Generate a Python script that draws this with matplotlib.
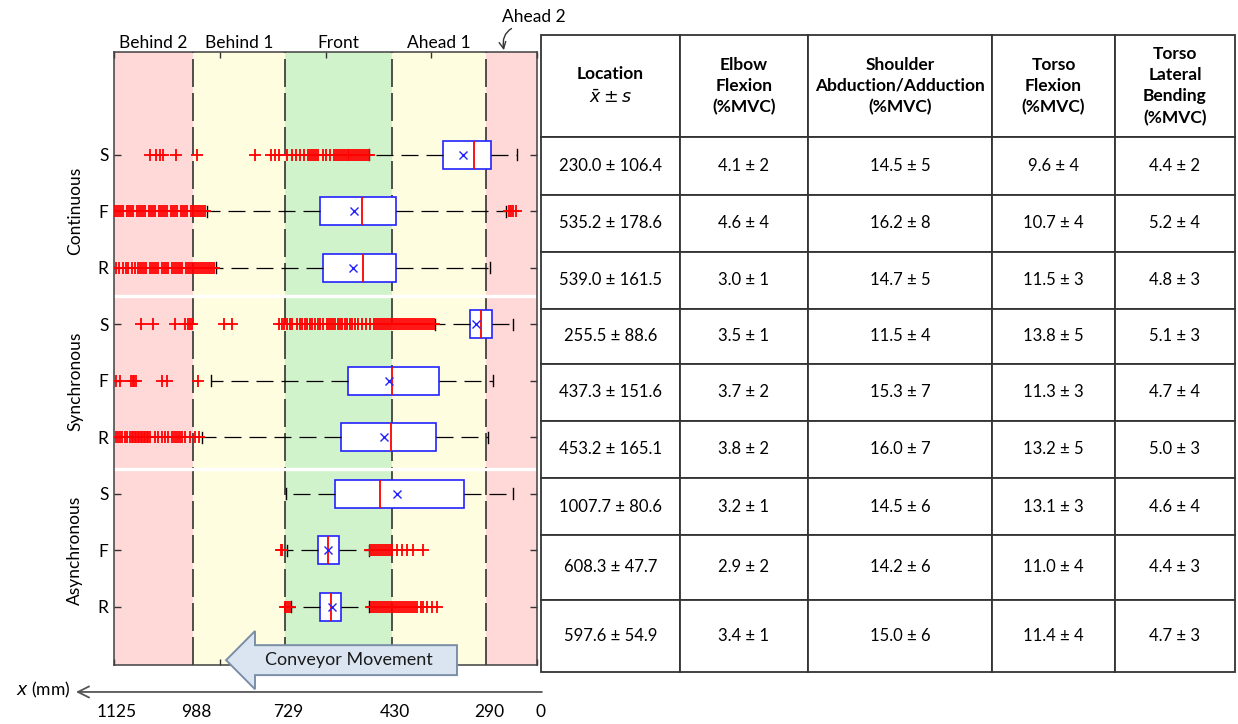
import matplotlib
matplotlib.use("Agg")
import matplotlib.pyplot as plt
from matplotlib import transforms
from matplotlib.patches import FancyArrow
import numpy as np

plt.rcParams['font.family'] = ['Lato', 'DejaVu Sans']

# ---------------- data ----------------
zone_names = ["Behind 2", "Behind 1", "Front", "Ahead 1", "Ahead 2"]
zone_edges = [1200, 976, 714, 411, 145, 0]
zone_colors = ["#ffd8d8", "#fffddf", "#d1f3cc", "#fffddf", "#ffd8d8"]
edge_labels = ["1125", "988", "729", "430", "290", "0"]

groups = ["Continuous", "Synchronous", "Asynchronous"]
stations = ["S", "F", "R"]

# box statistics per row (Continuous S,F,R / Synchronous S,F,R / Asynchronous S,F,R)
q1 = [131, 400, 400, 128, 278, 287, 208, 562, 555]
q3 = [268, 616, 608, 190, 537, 556, 574, 622, 616]
med = [179, 497, 494, 160, 412, 414, 445, 592, 585]
mean = [210, 519, 522, 173, 420, 434, 397, 593, 582]
whislo = [58, 88, 133, 68, 126, 139, 68, 477, 476]
whishi = [477, 936, 911, 289, 925, 951, 713, 710, 698]

fliers_cont_s = [1098, 1081, 1070, 1061, 1024, 965, 800, 756, 743, 731, 710, 696,
                 684, 672, 661, 651, 644, 638, 633, 627, 620, 608, 599, 587, 576,
                 570, 565, 559, 553, 548, 542, 536, 533, 528, 522, 516, 511, 505,
                 499, 494, 488, 482, 478]
fliers_cont_f = [1197, 1191, 1186, 1180, 1174, 1163, 1157, 1152, 1146, 1135, 1129,
                 1123, 1118, 1112, 1101, 1095, 1089, 1084, 1072, 1067, 1061, 1055,
                 1050, 1038, 1033, 1027, 1021, 1010, 1004, 999, 993, 982, 976, 970,
                 965, 959, 953, 948, 942, 79, 74, 68, 60]
fliers_cont_r = [1194, 1186, 1175, 1166, 1160, 1149, 1140, 1132, 1126, 1120, 1115,
                 1109, 1098, 1092, 1086, 1081, 1075, 1064, 1058, 1052, 1047, 1035,
                 1030, 1024, 1018, 1013, 1007, 996, 990, 984, 979, 973, 967, 962,
                 956, 950, 945, 939, 933, 928, 922, 916]
fliers_sync_s = [1123, 1089, 1027, 999, 990, 984, 979, 888, 865, 732, 723, 718, 709,
                 701, 695, 681, 672, 667, 658, 653, 644, 638, 630, 621, 616, 607,
                 596, 590, 584, 579, 573, 565, 559, 553, 545, 539, 531, 525, 516,
                 508, 497, 485, 474, 462, 457, 451, 445, 440, 434, 428, 423, 417,
                 411, 406, 400, 394, 389, 383, 377, 372, 366, 360, 355, 349, 343,
                 338, 332, 326, 321, 315, 309, 304, 298, 292]
fliers_sync_f = [1194, 1183, 1152, 1146, 1143, 1138, 1064, 1050, 962]
fliers_sync_r = [1194, 1189, 1183, 1177, 1169, 1163, 1155, 1149, 1146, 1140, 1138,
                 1132, 1129, 1123, 1121, 1115, 1112, 1106, 1104, 1098, 1084, 1075,
                 1064, 1055, 1047, 1036, 1030, 1024, 1018, 1013, 1007, 999, 984,
                 970, 959]
fliers_async_s = []
fliers_async_f = [727, 722, 474, 468, 462, 457, 451, 445, 440, 434, 428, 423, 417,
                  411, 397, 383, 369, 352, 323]
fliers_async_r = [715, 711, 706, 702, 471, 465, 460, 454, 448, 443, 437, 431, 426,
                  420, 414, 409, 403, 397, 392, 386, 380, 375, 369, 363, 358, 352,
                  346, 340, 329, 323, 312, 298, 284]
fliers = [fliers_cont_s, fliers_cont_f, fliers_cont_r,
          fliers_sync_s, fliers_sync_f, fliers_sync_r,
          fliers_async_s, fliers_async_f, fliers_async_r]

# summary table
loc_mean = [230.0, 535.2, 539.0, 255.5, 437.3, 453.2, 1007.7, 608.3, 597.6]
loc_sd = [106.4, 178.6, 161.5, 88.6, 151.6, 165.1, 80.6, 47.7, 54.9]
elbow_mean = [4.1, 4.6, 3.0, 3.5, 3.7, 3.8, 3.2, 2.9, 3.4]
elbow_sd = [2, 4, 1, 1, 2, 2, 1, 2, 1]
shoulder_mean = [14.5, 16.2, 14.7, 11.5, 15.3, 16.0, 14.5, 14.2, 15.0]
shoulder_sd = [5, 8, 5, 4, 7, 7, 6, 6, 6]
torso_flex_mean = [9.6, 10.7, 11.5, 13.8, 11.3, 13.2, 13.1, 11.0, 11.4]
torso_flex_sd = [4, 4, 3, 5, 3, 5, 3, 4, 4]
torso_lat_mean = [4.4, 5.2, 4.8, 5.1, 4.7, 5.0, 4.6, 4.4, 4.7]
torso_lat_sd = [2, 4, 3, 3, 4, 3, 4, 3, 3]
table_headers = ["Location\n$\\bar{x} \\pm s$",
                 "Elbow\nFlexion\n(%MVC)",
                 "Shoulder\nAbduction/Adduction\n(%MVC)",
                 "Torso\nFlexion\n(%MVC)",
                 "Torso\nLateral\nBending\n(%MVC)"]

# ---------------- figure ----------------
W, H = 1238, 724
fig = plt.figure(figsize=(W / 100, H / 100), dpi=100)
ax = fig.add_axes([114 / W, 1 - 665 / H, 423 / W, 613 / H])

rows = np.arange(1, 10)
ax.set_xlim(1200, 0)
ax.set_ylim(10.03, -0.82)

# workstation zones
for lo, hi, col in zip(zone_edges[1:], zone_edges[:-1], zone_colors):
    ax.axvspan(lo, hi, color=col, lw=0, zorder=0)
for x in zone_edges[1:-1]:
    ax.axvline(x, color="#333333", lw=1.2, linestyle=(0, (16.8, 3.6)), zorder=1)
for y in (3.5, 6.56):
    ax.axhline(y, color="white", lw=2.4, zorder=1.5)

stats = [dict(med=med[i], q1=q1[i], q3=q3[i], whislo=whislo[i], whishi=whishi[i],
              mean=mean[i], fliers=fliers[i]) for i in range(len(q1))]
ax.bxp(stats, positions=rows, widths=0.5, capwidths=0.2, orientation='horizontal',
       patch_artist=True, showmeans=True, manage_ticks=False,
       boxprops=dict(facecolor="white", edgecolor="#2222ff", linewidth=1.2),
       medianprops=dict(color="#ff0000", linewidth=1.3),
       meanprops=dict(marker="x", markeredgecolor="#2222ff", markerfacecolor="none",
                      markersize=6, markeredgewidth=1.0, linestyle="none"),
       whiskerprops=dict(color="black", linewidth=0.9, linestyle=(0, (13.6, 6.4))),
       capprops=dict(color="black", linewidth=1.0),
       flierprops=dict(marker="+", markeredgecolor="#ff0000", markersize=8,
                       markeredgewidth=1.3, linestyle="none"),
       zorder=3)

# axes styling
ax.set_yticks(rows)
ax.set_yticklabels(stations * 3, fontsize=12.5)
ax.set_xticks([0, 300, 600, 900, 1200])
ax.set_xticklabels([])
ax.tick_params(axis="y", direction="in", left=True, right=True, length=5,
               width=1, color="#333333", pad=4)
ax.tick_params(axis="x", direction="in", top=True, bottom=True, length=4,
               width=1, color="#333333")
for sp in ax.spines.values():
    sp.set_color("#404040")
    sp.set_linewidth(1.1)

# group labels
ytrans = transforms.blended_transform_factory(ax.transAxes, ax.transData)
for g, name in enumerate(groups):
    ax.text(-0.092, 3 * g + 2, name, transform=ytrans, rotation=90,
            ha="center", va="center", fontsize=12.5)

# zone names above the plot
xtrans = ax.get_xaxis_transform()
for name, lo, hi in zip(zone_names[:-1], zone_edges[1:-1], zone_edges[:-2]):
    ax.text((lo + hi) / 2, 1.0065, name, transform=xtrans, ha="center",
            va="baseline", fontsize=12.5)
ax.annotate(zone_names[-1], xy=(94, 1.003), xycoords=xtrans,
            xytext=(8, 1.057), textcoords=xtrans, ha="center", va="center",
            fontsize=12.5, annotation_clip=False,
            arrowprops=dict(arrowstyle="->", color="#333333", lw=1.0,
                            connectionstyle="arc3,rad=0.5", shrinkA=1, shrinkB=0,
                            mutation_scale=12,
                            relpos=(0.3, 0.0)))

# conveyor direction arrow
arrow = FancyArrow(227, 9.944, 655, 0, width=0.53, head_width=1.03, head_length=82,
                   length_includes_head=True, facecolor="#dbe5f1",
                   edgecolor="#7b8ea8", linewidth=1.4, clip_on=False, zorder=10)
ax.add_patch(arrow)
ax.text(533, 9.944, "Conveyor Movement", ha="center", va="center",
        fontsize=13, color="#1a1a1a", zorder=11, clip_on=False)

# x (mm) reference axis below the plot
ax.annotate("", xy=(1308, -0.044), xycoords=xtrans, xytext=(-14, -0.044),
            textcoords=xtrans, annotation_clip=False,
            arrowprops=dict(arrowstyle="->", color="#555555", lw=1.3,
                            shrinkA=0, shrinkB=0, mutation_scale=20))
ax.text(1325, -0.041, "$x$ (mm)", transform=xtrans, ha="right", va="center",
        fontsize=12.5)
label_trans = transforms.offset_copy(xtrans, fig=fig, x=3, y=0, units="dots")
for x, lab in zip(zone_edges, edge_labels):
    ax.text(x, -0.0767, lab, transform=label_trans, ha="center", va="center",
            fontsize=12.5)

# ---------------- summary table ----------------
cell_text = []
for i in range(len(loc_mean)):
    cell_text.append([f"{loc_mean[i]:.1f} ± {loc_sd[i]:.1f}",
                      f"{elbow_mean[i]:.1f} ± {elbow_sd[i]}",
                      f"{shoulder_mean[i]:.1f} ± {shoulder_sd[i]}",
                      f"{torso_flex_mean[i]:.1f} ± {torso_flex_sd[i]}",
                      f"{torso_lat_mean[i]:.1f} ± {torso_lat_sd[i]}"])

tax = fig.add_axes([541 / W, 1 - 672 / H, 694 / W, 637 / H])
tax.axis("off")
tbl = tax.table(cellText=cell_text, colLabels=table_headers, cellLoc="center",
                bbox=[0, 0, 1, 1])
tbl.auto_set_font_size(False)
col_w = [139, 128, 184, 123, 120]
row_h = [102, 58, 57, 57, 55, 57, 57, 57, 65, 72]
for (r, c), cell in tbl.get_celld().items():
    cell.set_width(col_w[c])
    cell.set_height(row_h[r])
    cell.set_edgecolor("#333333")
    cell.set_linewidth(1.3)
    txt = cell.get_text()
    txt.set_fontsize(12)
    if r == 0:
        txt.set_fontsize(12.5)
        txt.set_fontweight("bold")
        txt.set_linespacing(1.4)

fig.savefig("out.png", dpi=100)
